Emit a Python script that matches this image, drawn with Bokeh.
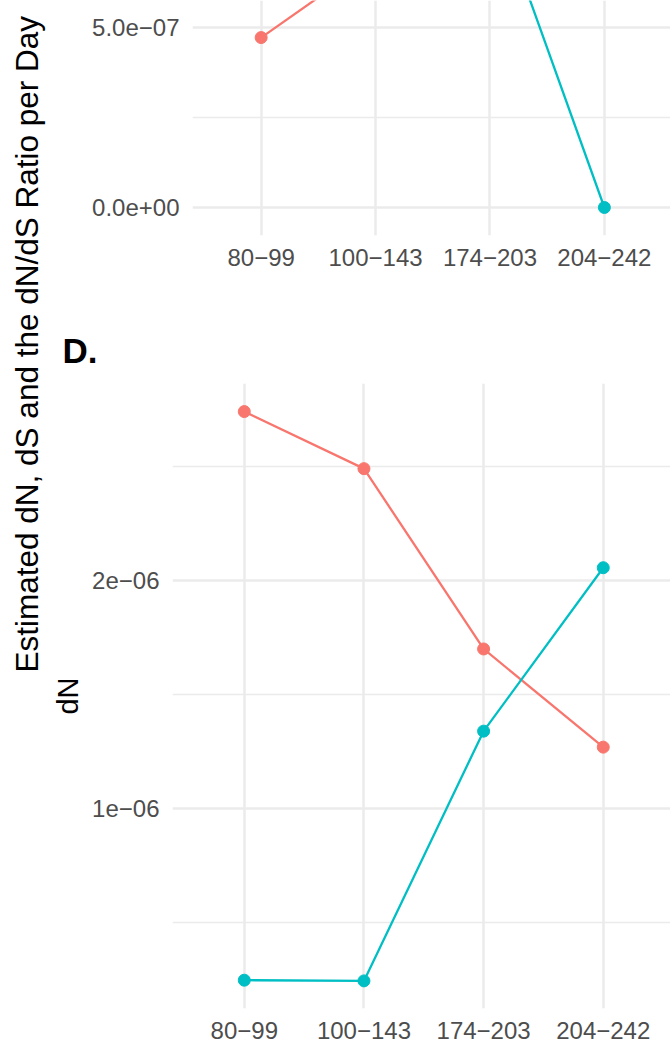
import math
from bokeh.plotting import figure
from bokeh.layouts import row, column
from bokeh.models import Range1d, FixedTicker, Label, ColumnDataSource
from bokeh.embed import file_html
from bokeh.resources import INLINE

# ---------------- data ----------------
categories = ["80\u221299", "100\u2212143", "174\u2212203", "204\u2212242"]
# upper panel (partly cut off in the reference)
top_red = [4.72e-7, 6.95e-7, 1.05e-6, 1.25e-6]
top_cyan = [1.20e-6, 1.56e-6, 8.86e-7, 0.0]
top_yticks = [0.0, 5e-7]
top_ytick_labels = ["0.0e+00", "5.0e\u221207"]
top_yminor = [-2.5e-7, 2.5e-7, 7.5e-7]
# panel D (dN)
dn_red = [2.74e-6, 2.49e-6, 1.70e-6, 1.27e-6]
dn_cyan = [2.49e-7, 2.46e-7, 1.34e-6, 2.056e-6]
dn_yticks = [1e-6, 2e-6]
dn_ytick_labels = ["1e\u221206", "2e\u221206"]
dn_yminor = [5e-7, 1.5e-6, 2.5e-6]

RED = "#F8766D"
CYAN = "#00BFC4"
GRID = "#EBEBEB"
TICK = "#4D4D4D"
FONT = "Liberation Sans"

xs = list(range(1, len(categories) + 1))
STRIP = 46


def style(p, yticks, ylabels, yminor):
    p.outline_line_color = None
    p.background_fill_color = "white"
    p.border_fill_color = "white"
    p.xaxis.ticker = FixedTicker(ticks=xs)
    p.xaxis.major_label_overrides = {x: c for x, c in zip(xs, categories)}
    p.yaxis.ticker = FixedTicker(ticks=yticks, minor_ticks=yminor)
    p.yaxis.major_label_overrides = {t: l for t, l in zip(yticks, ylabels)}
    for ax in (p.xaxis[0], p.yaxis[0]):
        ax.axis_line_color = None
        ax.major_tick_line_color = None
        ax.minor_tick_line_color = None
        ax.major_tick_in = 0
        ax.major_tick_out = 0
        ax.minor_tick_in = 0
        ax.minor_tick_out = 0
        ax.major_label_text_font = FONT
        ax.major_label_text_font_size = "24px"
        ax.major_label_text_color = TICK
    p.xaxis.major_label_standoff = 13
    p.yaxis.major_label_standoff = 13
    p.xgrid.grid_line_color = GRID
    p.xgrid.grid_line_width = 2.5
    p.ygrid.grid_line_color = GRID
    p.ygrid.grid_line_width = 2.5
    p.ygrid.minor_grid_line_color = GRID
    p.ygrid.minor_grid_line_width = 1.3


def draw(p, red, cyan):
    for vals, col in ((red, RED), (cyan, CYAN)):
        src = ColumnDataSource(dict(x=xs, y=vals))
        p.line("x", "y", source=src, line_color=col, line_width=2.3)
        p.scatter("x", "y", source=src, size=12, fill_color=col, line_color=col)


# ---------------- left title strip ----------------
tfig = figure(width=STRIP, height=1046, x_range=Range1d(0, STRIP), y_range=Range1d(0, 1046),
              output_backend="svg", toolbar_location=None, min_border=0)
tfig.axis.visible = False
tfig.grid.visible = False
tfig.outline_line_color = None
tfig.add_layout(Label(x=26, y=1046 - 672, angle=math.pi / 2,
                      text="Estimated dN, dS and the dN/dS Ratio per Day",
                      text_font=FONT, text_font_size="31.5px", text_color="black",
                      text_align="left", text_baseline="alphabetic"))

# ---------------- upper panel ----------------
ptop = figure(width=670 - STRIP, height=300, x_range=Range1d(0.4, 4.578),
              y_range=Range1d(-7.78e-8, 5.75e-7),
              output_backend="svg", toolbar_location=None, frame_align=False,
              min_border_left=192 - STRIP, min_border_right=0, min_border_top=0,
              min_border_bottom=65)
style(ptop, top_yticks, top_ytick_labels, top_yminor)
draw(ptop, top_red, top_cyan)

# ---------------- panel D ----------------
pd = figure(width=670 - STRIP, height=746, x_range=Range1d(0.4, 4.562),
            y_range=Range1d(0.125e-6, 2.863e-6),
            output_backend="svg", toolbar_location=None, frame_align=False,
            min_border_left=172 - STRIP, min_border_right=0, min_border_top=83,
            min_border_bottom=38)
style(pd, dn_yticks, dn_ytick_labels, dn_yminor)
pd.yaxis.axis_label = "dN"
pd.yaxis.axis_label_text_font = FONT
pd.yaxis.axis_label_text_font_size = "29px"
pd.yaxis.axis_label_text_font_style = "normal"
pd.yaxis.axis_label_text_color = "black"
pd.yaxis.axis_label_standoff = 5
draw(pd, dn_red, dn_cyan)
pd.title.text = "D."
pd.title.align = "left"
pd.title.offset = -110
pd.title.standoff = 27
pd.title.text_font = FONT
pd.title.text_font_size = "35px"
pd.title.text_font_style = "bold"
pd.title.text_color = "black"

layout = row(tfig, column(ptop, pd, spacing=0), spacing=0)
open("out.html", "w").write(file_html(layout, INLINE))
